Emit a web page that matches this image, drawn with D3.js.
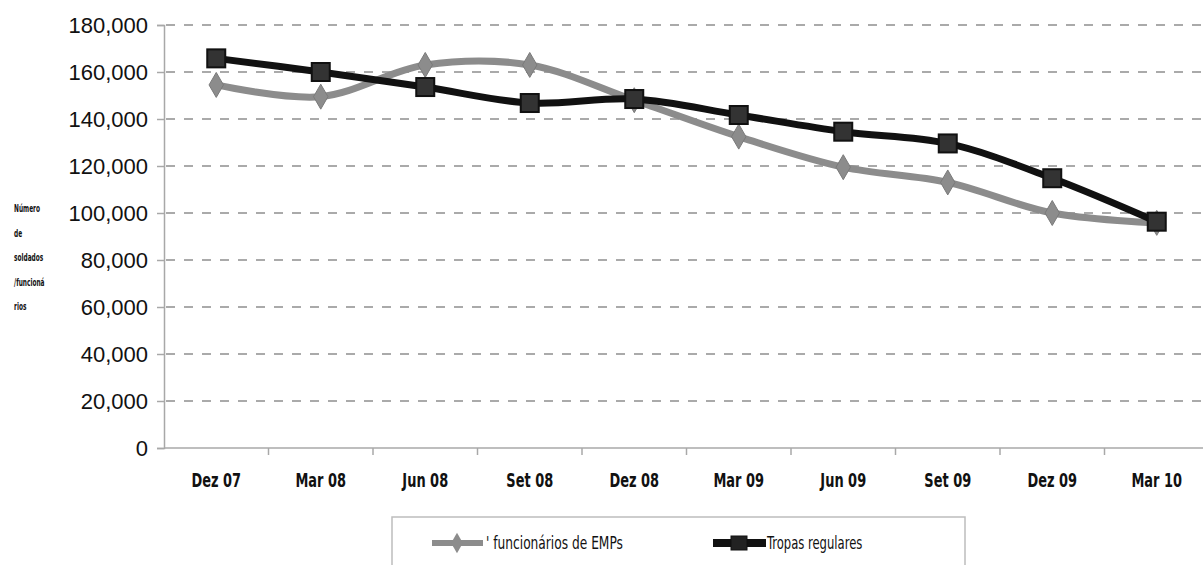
<!DOCTYPE html>
<html>
<head>
<meta charset="utf-8">
<script src="https://cdn.jsdelivr.net/npm/d3@7/dist/d3.min.js"></script>
<style>
  html, body { margin: 0; padding: 0; background: #fff; }
  svg { display: block; }
  .ylab { font-family: Arial, "Liberation Sans", sans-serif; font-size: 22px; fill: #111; }
  .xlab { font-family: "DejaVu Sans Condensed", "DejaVu Sans", sans-serif; font-weight: bold; font-size: 18px; fill: #111; }
  .ytitle { font-family: "DejaVu Sans Condensed", "DejaVu Sans", sans-serif; font-weight: bold; font-size: 10px; fill: #111; }
  .leg { font-family: "DejaVu Sans Condensed", "DejaVu Sans", sans-serif; font-size: 17px; fill: #111; }
</style>
</head>
<body>
<svg id="chart" width="1203" height="565"></svg>
<script>
// Quarterly periods
const categories = ["Dez 07", "Mar 08", "Jun 08", "Set 08", "Dez 08", "Mar 09", "Jun 09", "Set 09", "Dez 09", "Mar 10"];
// Staff of private military companies (EMPs)
const funcionariosEMPs = [154500, 149500, 163000, 163000, 148000, 132500, 119500, 113000, 100000, 95800];
// Regular troops
const tropasRegulares = [165800, 160000, 153600, 146800, 148500, 141700, 134600, 129600, 114800, 96300];
const yTicks = [0, 20000, 40000, 60000, 80000, 100000, 120000, 140000, 160000, 180000];
const yTitleLines = ["Número", "de", "soldados", "/funcioná", "rios"];
const seriesNames = ["' funcionários de EMPs", "Tropas regulares"];

const svg = d3.select("#chart");
const plotLeft = 164, plotRight = 1209, plotTop = 25, plotBottom = 448;

const x = d3.scaleBand().domain(categories).range([plotLeft, plotRight]);
const y = d3.scaleLinear().domain([0, 180000]).range([plotBottom, plotTop]);
const cx = c => x(c) + x.bandwidth() / 2;
const fmt = d3.format(",");

// Horizontal dashed gridlines
svg.append("g").selectAll("line").data(yTicks.filter(d => d > 0)).join("line")
  .attr("x1", plotLeft + 2).attr("x2", 1203)
  .attr("y1", d => y(d)).attr("y2", d => y(d))
  .attr("stroke", "#8f8f8f").attr("stroke-width", 1.6)
  .attr("stroke-dasharray", "9,9");

// Y axis
const yAxis = svg.append("g").attr("transform", `translate(${plotLeft},0)`)
  .call(d3.axisLeft(y).tickValues(yTicks).tickFormat(fmt).tickSize(7).tickPadding(9));
yAxis.select(".domain").attr("stroke", "#a8a8a8").attr("stroke-width", 1.5);
yAxis.selectAll(".tick line").attr("stroke", "#a8a8a8").attr("stroke-width", 1.5);
yAxis.selectAll(".tick text").attr("class", "ylab").attr("font-size", null).attr("font-family", null).attr("dy", "0.36em");

// X axis with ticks between categories
const xAxisG = svg.append("g").attr("transform", `translate(0,${plotBottom})`);
xAxisG.append("line").attr("x1", plotLeft).attr("x2", 1203).attr("y1", 0).attr("y2", 0)
  .attr("stroke", "#a8a8a8").attr("stroke-width", 1.5);
xAxisG.selectAll("line.tk").data(categories.slice(1)).join("line").attr("class", "tk")
  .attr("x1", d => x(d)).attr("x2", d => x(d)).attr("y1", 0).attr("y2", 7)
  .attr("stroke", "#a8a8a8").attr("stroke-width", 1.5);
xAxisG.selectAll("text").data(categories).join("text")
  .attr("class", "xlab")
  .attr("transform", d => `translate(${cx(d)},39) scale(0.8,1.05)`)
  .attr("text-anchor", "middle").text(d => d);

// Y axis title, wrapped and condensed
svg.append("g").selectAll("text").data(yTitleLines).join("text")
  .attr("class", "ytitle")
  .attr("transform", (d, i) => `translate(14,${212 + i * 24.5}) scale(0.65,1)`)
  .text(d => d);

const line = d3.line().x((d, i) => cx(categories[i])).y(d => y(d)).curve(d3.curveCatmullRom.alpha(0.5));

// Gray series
svg.append("path").datum(funcionariosEMPs).attr("d", line)
  .attr("fill", "none").attr("stroke", "#8c8c8c").attr("stroke-width", 7).attr("stroke-linejoin", "round");
const diamond = d3.symbol().type(d3.symbolDiamond).size(180);
svg.append("g").selectAll("path").data(funcionariosEMPs).join("path")
  .attr("d", diamond)
  .attr("transform", (d, i) => `translate(${cx(categories[i])},${y(d)})`)
  .attr("fill", "#8c8c8c").attr("stroke", "#7a7a7a").attr("stroke-width", 1);

// Black series
svg.append("path").datum(tropasRegulares).attr("d", line)
  .attr("fill", "none").attr("stroke", "#111").attr("stroke-width", 7).attr("stroke-linejoin", "round");
svg.append("g").selectAll("rect").data(tropasRegulares).join("rect")
  .attr("x", (d, i) => cx(categories[i]) - 9).attr("y", d => y(d) - 9)
  .attr("width", 18).attr("height", 18)
  .attr("fill", "#333").attr("stroke", "#111").attr("stroke-width", 2);

// Legend
const leg = svg.append("g");
leg.append("rect").attr("x", 392).attr("y", 517).attr("width", 573).attr("height", 60)
  .attr("fill", "#fff").attr("stroke", "#bdbdbd").attr("stroke-width", 1.5);
leg.append("line").attr("x1", 432).attr("x2", 483).attr("y1", 543).attr("y2", 543)
  .attr("stroke", "#8c8c8c").attr("stroke-width", 6);
leg.append("path").attr("d", d3.symbol().type(d3.symbolDiamond).size(120))
  .attr("transform", "translate(457,543)").attr("fill", "#8c8c8c");
leg.append("text").attr("class", "leg").attr("transform", "translate(486,549) scale(0.8,1)").text(seriesNames[0]);
leg.append("line").attr("x1", 713).attr("x2", 766).attr("y1", 543).attr("y2", 543)
  .attr("stroke", "#111").attr("stroke-width", 8);
leg.append("rect").attr("x", 731).attr("y", 536).attr("width", 16).attr("height", 14)
  .attr("fill", "#222").attr("stroke", "#111");
leg.append("text").attr("class", "leg").attr("transform", "translate(767,549) scale(0.76,1)").text(seriesNames[1]);
</script>
</body>
</html>
